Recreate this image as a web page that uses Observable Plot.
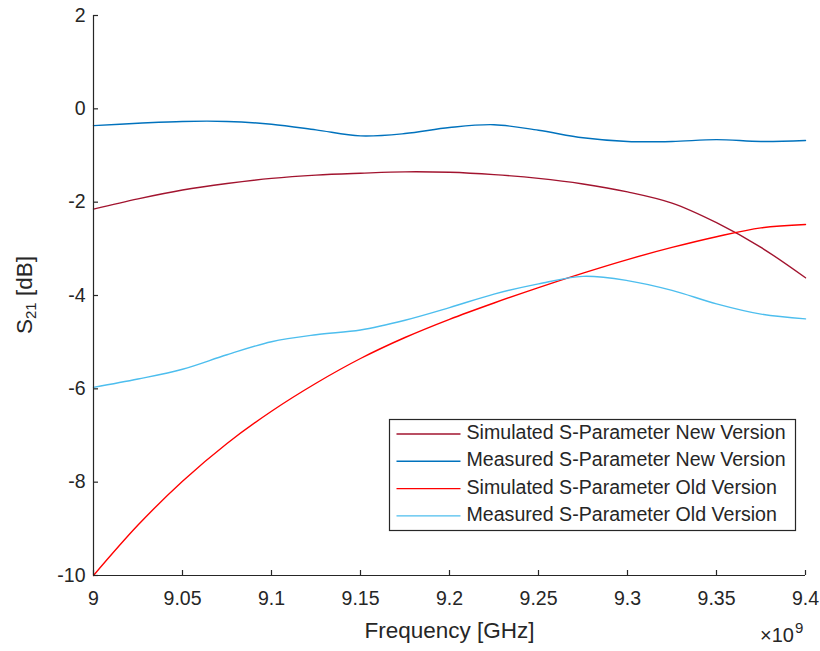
<!DOCTYPE html>
<html>
<head>
<meta charset="utf-8">
<script src="https://cdn.jsdelivr.net/npm/d3@7"></script>
<script src="https://cdn.jsdelivr.net/npm/@observablehq/plot@0.6"></script>
<style>
  body { margin: 0; background: #fff; }
  #chart svg { font-family: "Liberation Sans", Arial, Helvetica, sans-serif; display: block; }
</style>
</head>
<body>
<div id="chart"></div>
<script>
// Frequency sweep (Hz) shared by all four traces
const freqHz = [
  9.000e9, 9.025e9, 9.050e9, 9.075e9, 9.100e9, 9.125e9, 9.150e9, 9.175e9, 9.200e9,
  9.225e9, 9.250e9, 9.275e9, 9.300e9, 9.325e9, 9.350e9, 9.375e9, 9.400e9
];

// S21 transmission in dB
const simNew = [-2.15, -1.93, -1.74, -1.60, -1.49, -1.42, -1.38, -1.35, -1.36,
                -1.41, -1.49, -1.61, -1.78, -2.02, -2.44, -2.97, -3.62];
const measNew = [-0.36, -0.31, -0.27, -0.27, -0.33, -0.45, -0.58, -0.53, -0.40,
                 -0.34, -0.46, -0.62, -0.70, -0.70, -0.66, -0.70, -0.68];
const simOld = [-10.0, -8.92, -7.98, -7.17, -6.48, -5.88, -5.35, -4.90, -4.51,
                -4.16, -3.83, -3.52, -3.23, -2.97, -2.74, -2.55, -2.48];
const measOld = [-5.97, -5.79, -5.58, -5.27, -4.99, -4.84, -4.74, -4.53, -4.26,
                 -3.97, -3.75, -3.59, -3.68, -3.89, -4.18, -4.40, -4.50];

const seriesNames = [
  "Simulated S-Parameter New Version",
  "Measured S-Parameter New Version",
  "Simulated S-Parameter Old Version",
  "Measured S-Parameter Old Version"
];
const seriesColors = ["#A2142F", "#0072BD", "#FF0000", "#4DBEEE"];
const seriesValues = [simNew, measNew, simOld, measOld];

const xTicks = [9.00e9, 9.05e9, 9.10e9, 9.15e9, 9.20e9, 9.25e9, 9.30e9, 9.35e9, 9.40e9];
const yTicks = [-10, -8, -6, -4, -2, 0, 2];

// Long-format table for the line mark
const rows = [];
seriesValues.forEach((vals, i) => {
  vals.forEach((v, j) => rows.push({ f: freqHz[j], s21: v, series: seriesNames[i] }));
});

const W = 820, H = 651;
const mL = 93, mR = 15, mT = 15, mB = 76;
const innerW = W - mL - mR, innerH = H - mT - mB;
const ink = "#262626";
const tickLen = 5;

const chart = Plot.plot({
  width: W,
  height: H,
  marginLeft: mL,
  marginRight: mR,
  marginTop: mT,
  marginBottom: mB,
  style: { fontFamily: "Liberation Sans, Arial, sans-serif", color: ink, background: "#fff" },
  x: { domain: [9.0e9, 9.4e9] },
  y: { domain: [-10, 2] },
  color: { domain: seriesNames, range: seriesColors },
  marks: [
    Plot.line(rows, {
      x: "f", y: "s21", z: "series", stroke: "series",
      curve: "catmull-rom", strokeWidth: 1.4
    }),
    // axis lines (left and bottom only)
    Plot.ruleY([-10], { stroke: ink, strokeWidth: 1.2 }),
    Plot.ruleX([9.0e9], { stroke: ink, strokeWidth: 1.2 }),
    // inward tick marks
    Plot.ruleX(xTicks, { insetTop: innerH - tickLen, stroke: ink, strokeWidth: 1.2 }),
    Plot.ruleY(yTicks, { insetRight: innerW - tickLen, stroke: ink, strokeWidth: 1.2 }),
    Plot.axisX(xTicks, {
      tickSize: 0, tickPadding: 16, fontSize: 19.5, label: null,
      tickFormat: d => d3.format("~g")(Math.round(d / 1e6) / 1e3),
      fill: ink
    }),
    Plot.axisY(yTicks, {
      tickSize: 0, tickPadding: 8, fontSize: 19.5, label: null,
      tickFormat: d => String(d),
      fill: ink
    }),
    Plot.text(["Frequency [GHz]"], {
      frameAnchor: "bottom", dy: 62, fontSize: 22.5, fill: ink
    })
  ]
});

document.getElementById("chart").appendChild(chart);

const svg = d3.select(chart);

// y-axis title with subscript
const yTitle = svg.append("text")
  .attr("transform", `translate(26,${mT + innerH / 2}) rotate(-90)`)
  .attr("text-anchor", "middle")
  .attr("dominant-baseline", "middle")
  .attr("fill", ink)
  .attr("font-size", 22.5);
yTitle.append("tspan").text("S");
yTitle.append("tspan").attr("font-size", 15).attr("dy", 6).text("21");
yTitle.append("tspan").attr("dy", -6).text(" [dB]");

// exponent label for the frequency axis
svg.append("text")
  .attr("x", W - mR - 11)
  .attr("y", mT + innerH + 67)
  .attr("text-anchor", "end")
  .attr("fill", ink)
  .attr("font-size", 20)
  .text("\u00d710");
svg.append("text")
  .attr("x", W - mR - 10)
  .attr("y", mT + innerH + 58)
  .attr("text-anchor", "start")
  .attr("fill", ink)
  .attr("font-size", 15)
  .text("9");

// legend box
const lg = svg.append("g").attr("transform", "translate(389.5,419.5)");
lg.append("rect")
  .attr("width", 406).attr("height", 111)
  .attr("fill", "#fff").attr("stroke", ink).attr("stroke-width", 1.2);
seriesNames.forEach((name, i) => {
  const y = 14.5 + i * 27.3;
  lg.append("line")
    .attr("x1", 7).attr("x2", 71).attr("y1", y).attr("y2", y)
    .attr("stroke", seriesColors[i]).attr("stroke-width", 1.4);
  lg.append("text")
    .attr("x", 77).attr("y", y)
    .attr("text-anchor", "start")
    .attr("dominant-baseline", "middle")
    .attr("fill", ink)
    .attr("font-size", 19.6)
    .text(name);
});
</script>
</body>
</html>
